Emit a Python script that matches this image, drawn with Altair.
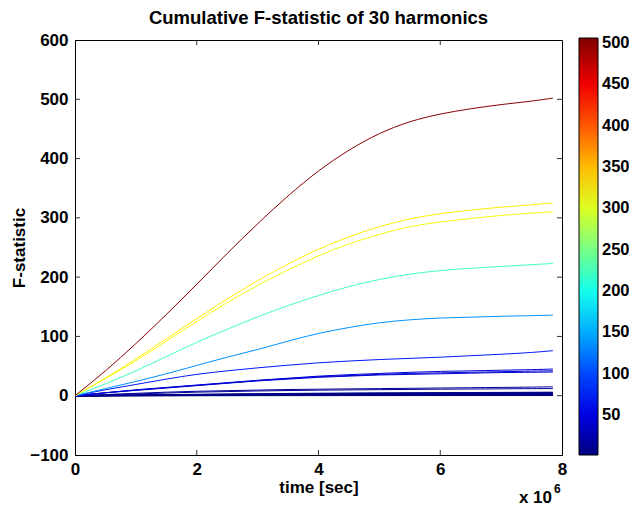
import altair as alt
import pandas as pd

# time samples (in units of 1e6 s)
times_e6 = [0, 0.5, 1, 1.5, 2, 2.5, 3, 3.5, 4, 4.5, 5, 5.5, 6, 6.5, 7, 7.5, 7.85]

# cumulative F-statistic of each harmonic
h_red = [0, 42, 88, 137, 188, 240, 290, 337, 379, 414, 442, 462, 475, 484, 491, 497, 502]
h_yel_a = [0, 30, 62, 96, 130, 163, 194, 222, 247, 268, 285, 298, 307, 313, 318, 322, 325]
h_yel_b = [0, 29, 59, 92, 125, 157, 186, 212, 236, 256, 272, 285, 293, 299, 304, 308, 310]
h_green = [0, 20, 42, 66, 90, 112, 133, 152, 169, 184, 196, 205, 211, 215, 218, 221, 223]
h_blue = [0, 12, 24, 37, 51, 65, 78, 92, 105, 115, 123, 128, 131, 132.5, 134, 135, 136]
h_76 = [0, 10, 19, 28, 36, 42, 47, 51.5, 55.5, 58.5, 61, 63, 65, 67.5, 70, 73, 76]
h_45 = [0, 5, 10, 14, 18, 22, 26, 29.5, 33, 35.5, 37.5, 39.5, 41, 42, 43, 44, 45]
h_42 = [0, 5, 9.5, 13.5, 17.5, 21.5, 25.5, 29, 32, 34, 36, 37.5, 38.5, 39.5, 40.5, 41.5, 42]
h_40 = [0, 5, 9, 13, 17, 21, 25, 28, 31, 33, 35, 36, 37, 38, 39, 39.5, 40]
h_15 = [0, 2, 4, 6, 7.5, 8.5, 9.5, 10.5, 11, 11.5, 12, 12.5, 13, 13.5, 14, 14.5, 15]
h_12 = [0, 1.5, 3, 4.5, 6, 7, 8, 8.7, 9.3, 9.8, 10.2, 10.6, 11, 11.3, 11.6, 11.9, 12]
h_n01 = [0, 0.6, 1.2, 1.8, 2.4, 2.9, 3.4, 3.8, 4.2, 4.5, 4.8, 5.0, 5.2, 5.4, 5.6, 5.8, 6.0]
h_n02 = [0, 0.5, 1.0, 1.5, 2.0, 2.5, 2.9, 3.3, 3.6, 3.9, 4.2, 4.4, 4.6, 4.8, 4.9, 5.1, 5.2]
h_n03 = [0, 0.5, 0.9, 1.3, 1.8, 2.2, 2.6, 2.9, 3.2, 3.5, 3.7, 3.9, 4.1, 4.3, 4.4, 4.5, 4.6]
h_n04 = [0, 0.4, 0.8, 1.2, 1.6, 1.9, 2.3, 2.6, 2.9, 3.1, 3.3, 3.5, 3.7, 3.8, 3.9, 4.0, 4.1]
h_n05 = [0, 0.4, 0.7, 1.1, 1.4, 1.8, 2.1, 2.3, 2.6, 2.8, 3.0, 3.2, 3.3, 3.4, 3.5, 3.6, 3.7]
h_n06 = [0, 0.3, 0.6, 1.0, 1.3, 1.6, 1.8, 2.1, 2.3, 2.5, 2.7, 2.8, 2.9, 3.0, 3.1, 3.2, 3.3]
h_n07 = [0, 0.3, 0.6, 0.9, 1.2, 1.4, 1.7, 1.9, 2.1, 2.3, 2.4, 2.6, 2.7, 2.8, 2.9, 2.95, 3.0]
h_n08 = [0, 0.3, 0.5, 0.8, 1.0, 1.3, 1.5, 1.7, 1.9, 2.0, 2.2, 2.3, 2.4, 2.5, 2.6, 2.65, 2.7]
h_n09 = [0, 0.2, 0.5, 0.7, 0.9, 1.1, 1.3, 1.5, 1.7, 1.8, 1.9, 2.0, 2.1, 2.2, 2.3, 2.35, 2.4]
h_n10 = [0, 0.2, 0.4, 0.6, 0.8, 1.0, 1.2, 1.3, 1.5, 1.6, 1.7, 1.8, 1.9, 1.95, 2.0, 2.05, 2.1]
h_n11 = [0, 0.2, 0.4, 0.6, 0.7, 0.9, 1.0, 1.2, 1.3, 1.4, 1.5, 1.6, 1.7, 1.75, 1.8, 1.85, 1.9]
h_n12 = [0, 0.2, 0.3, 0.5, 0.7, 0.8, 0.9, 1.1, 1.2, 1.3, 1.4, 1.45, 1.5, 1.55, 1.6, 1.65, 1.7]
h_n13 = [0, 0.1, 0.3, 0.4, 0.6, 0.7, 0.8, 0.9, 1.0, 1.1, 1.2, 1.3, 1.35, 1.4, 1.45, 1.48, 1.5]
h_n14 = [0, 0.1, 0.3, 0.4, 0.5, 0.6, 0.7, 0.8, 0.9, 1.0, 1.05, 1.1, 1.15, 1.2, 1.25, 1.28, 1.3]
h_n15 = [0, 0.1, 0.2, 0.3, 0.4, 0.5, 0.6, 0.7, 0.75, 0.8, 0.9, 0.95, 1.0, 1.02, 1.05, 1.08, 1.1]
h_n16 = [0, 0.1, 0.2, 0.3, 0.35, 0.4, 0.5, 0.55, 0.6, 0.7, 0.75, 0.78, 0.8, 0.84, 0.86, 0.88, 0.9]
h_n17 = [0, 0.1, 0.15, 0.2, 0.3, 0.35, 0.4, 0.45, 0.5, 0.53, 0.56, 0.6, 0.63, 0.65, 0.67, 0.69, 0.7]
h_n18 = [0, 0.05, 0.1, 0.15, 0.2, 0.25, 0.3, 0.32, 0.35, 0.38, 0.4, 0.43, 0.45, 0.47, 0.48, 0.49, 0.5]
h_n19 = [0, 0.03, 0.06, 0.09, 0.12, 0.15, 0.18, 0.2, 0.22, 0.24, 0.25, 0.26, 0.27, 0.28, 0.29, 0.295, 0.3]

harmonics = [h_n19, h_n18, h_n17, h_n16, h_n15, h_n14, h_n13, h_n12, h_n11, h_n10,
             h_n09, h_n08, h_n07, h_n06, h_n05, h_n04, h_n03, h_n02, h_n01,
             h_12, h_15, h_40, h_42, h_45, h_76, h_blue, h_green, h_yel_b, h_yel_a, h_red]

chart_title = "Cumulative F-statistic of 30 harmonics"
x_ticks = [0, 2e6, 4e6, 6e6, 8e6]
y_ticks = [-100, 0, 100, 200, 300, 400, 500, 600]
cbar_ticks = [50, 100, 150, 200, 250, 300, 350, 400, 450, 500]
cbar_lo, cbar_hi = 1.6, 506.0
jet_fracs = [0, 0.125, 0.375, 0.625, 0.875, 1.0]
jet_colors = ["#000080", "#0000ff", "#00ffff", "#ffff00", "#ff0000", "#800000"]

rows = []
for k, vals in enumerate(harmonics):
    final = vals[-1]
    for t, v in zip(times_e6, vals):
        rows.append({"id": k, "time": t * 1e6, "F": v, "final": final})
df = pd.DataFrame(rows)

FONT = "Liberation Sans"
W, H = 487, 415

xs = alt.Scale(domain=[0, 8e6], nice=False, zero=False)
ys = alt.Scale(domain=[-100, 600], nice=False, zero=False)
cs = alt.Scale(domain=[cbar_lo + f * (cbar_hi - cbar_lo) for f in jet_fracs],
               range=jet_colors, interpolate="rgb", clamp=True)

lines = alt.Chart(df).mark_line(strokeWidth=1, interpolate="natural", clip=True).encode(
    x=alt.X("time:Q", scale=xs,
            axis=alt.Axis(values=x_ticks, labelExpr="datum.value / 1000000",
                          title="time [sec]", tickSize=0, labelPadding=6,
                          titlePadding=2, labelFlush=False, grid=False)),
    y=alt.Y("F:Q", scale=ys,
            axis=alt.Axis(values=y_ticks, title="F-statistic", tickSize=0,
                          labelPadding=7, titlePadding=1, labelFlush=False, grid=False)),
    color=alt.Color("final:Q", scale=cs,
                    legend=alt.Legend(orient="none", legendX=W + 17, legendY=-2,
                                      direction="vertical", title=None,
                                      gradientLength=417, gradientThickness=19,
                                      gradientStrokeColor="black", gradientStrokeWidth=1,
                                      values=cbar_ticks, labelOffset=4)),
    detail="id:N",
    order=alt.Order("id:Q"),
)

xt = pd.DataFrame({"tx": x_ticks[1:-1]})
yt = pd.DataFrame({"ty": y_ticks[1:-1]})
tick_col = "#333333"
xb = alt.Chart(xt).mark_rule(color=tick_col, strokeWidth=1).encode(
    x=alt.X("tx:Q", scale=xs), y=alt.value(H), y2=alt.value(H - 5))
xtop = alt.Chart(xt).mark_rule(color=tick_col, strokeWidth=1).encode(
    x=alt.X("tx:Q", scale=xs), y=alt.value(0), y2=alt.value(5))
yl = alt.Chart(yt).mark_rule(color=tick_col, strokeWidth=1).encode(
    y=alt.Y("ty:Q", scale=ys), x=alt.value(0), x2=alt.value(5))
yr = alt.Chart(yt).mark_rule(color=tick_col, strokeWidth=1).encode(
    y=alt.Y("ty:Q", scale=ys), x=alt.value(W), x2=alt.value(W - 5))

mult = pd.DataFrame({"base": ["x 10"], "exp": ["6"], "title": [chart_title]})
mult_base = alt.Chart(mult).mark_text(font=FONT, fontSize=17, fontWeight="bold",
                                      align="right", baseline="alphabetic").encode(
    text="base:N", x=alt.value(W - 10), y=alt.value(H + 48))
mult_exp = alt.Chart(mult).mark_text(font=FONT, fontSize=12, fontWeight="bold",
                                     align="left", baseline="alphabetic").encode(
    text="exp:N", x=alt.value(W - 8), y=alt.value(H + 38))
title_txt = alt.Chart(mult).mark_text(font=FONT, fontSize=18.5, fontWeight="bold",
                                      align="center", baseline="alphabetic",
                                      color="black").encode(
    text="title:N", x=alt.value(W / 2), y=alt.value(-16))

chart = alt.layer(xb, xtop, yl, yr, lines, mult_base, mult_exp, title_txt).properties(
    width=W, height=H,
    padding={"left": 67, "top": 32, "right": 67, "bottom": 51},
    autosize=alt.AutoSizeParams(type="none"),
).resolve_scale(x="shared", y="shared").configure_view(
    stroke="black", strokeWidth=1
).configure_axis(
    labelFont=FONT, titleFont=FONT, labelFontSize=17, titleFontSize=17,
    labelFontWeight="bold", titleFontWeight="bold", labelColor="black",
    titleColor="black", domainColor="black", domainWidth=1
).configure_legend(
    labelFont=FONT, labelFontSize=16.5, labelFontWeight="bold", labelColor="black"
)

chart.save("out.html", embed_options={"renderer": "svg", "actions": False})
